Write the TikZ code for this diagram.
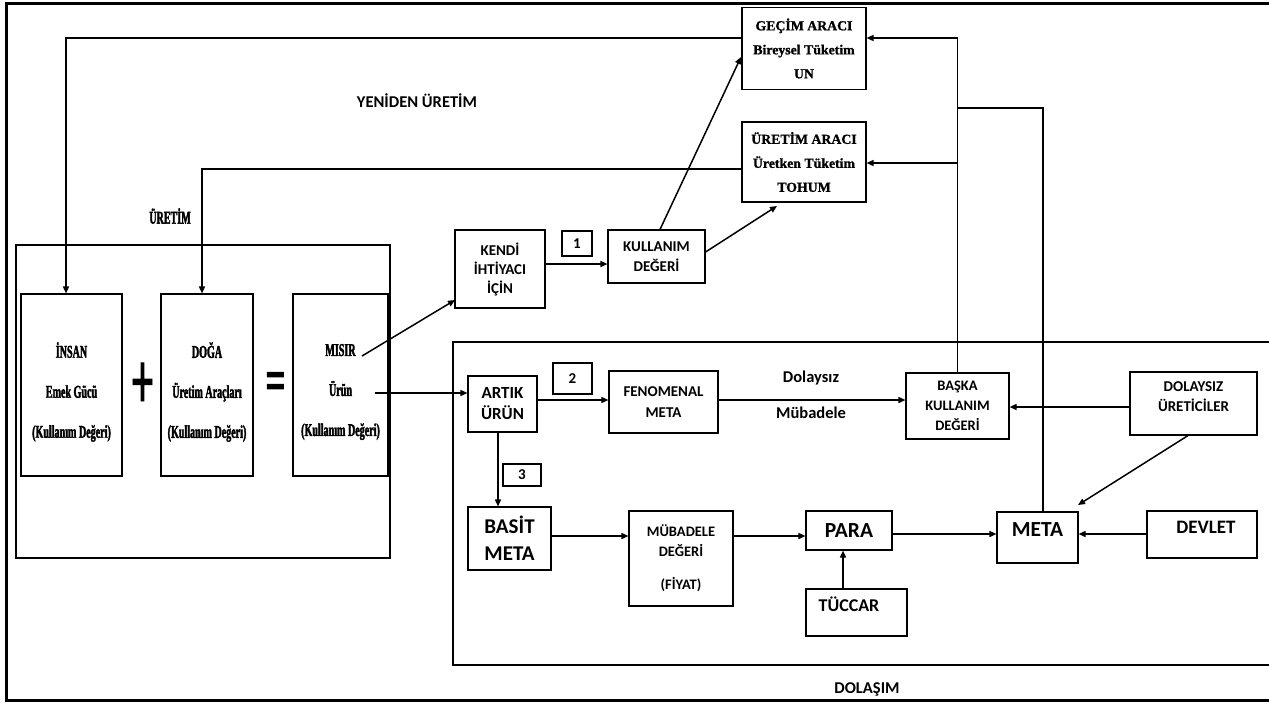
\documentclass[tikz,border=0pt]{standalone}
\usepackage{fontspec}
\usetikzlibrary{arrows.meta}
\newfontfamily\sanslab{Carlito}
\newfontfamily\serlab{Liberation Serif Bold}[FakeBold=1.2]
\newfontfamily\sercond{Liberation Serif Bold}[FakeStretch=0.56, FakeBold=2]
\newfontfamily\symcond{Liberation Serif Bold}[FakeStretch=0.5, FakeBold=1]
\tikzset{
  boxn/.style={draw, line width=1.1pt, inner sep=0pt, align=center},
  arr/.style={-{Triangle[length=7pt,width=6pt]}, line width=1.5pt},
  ln/.style={line width=1.5pt},
  sf/.style={font=\sanslab\bfseries\fontsize{#1}{20}\selectfont},
  tf/.style={font=\serlab\fontsize{13.8}{24}\selectfont},
  cf/.style={font=\sercond\fontsize{18}{40}\selectfont, align=center},
}
\begin{document}
\begin{tikzpicture}[x=1pt,y=-1pt]
\useasboundingbox (0,0) rectangle (1269,702);
% outer frame
\draw[line width=3pt] (1269,3) -- (6,3) -- (6,700) -- (1269,700);
% production box
\draw[line width=1.8pt] (16,245) rectangle (390,558);
% circulation box
\draw[line width=1.3pt] (1269,342) -- (453,342) -- (453,665) -- (1269,665);

% top boxes
\node[boxn, tf, minimum width=124, minimum height=82] (gecim) at (804,48.5) {GEÇİM ARACI\\Bireysel Tüketim\\UN};
\node[boxn, tf, minimum width=124, minimum height=80] (uretimarac) at (804,162) {ÜRETİM ARACI\\Üretken Tüketim\\TOHUM};

% production boxes
\node[boxn, minimum width=101, minimum height=182] (insan) at (71.5,385) {};
\node[cf] (insant) at (71.5,392) {İNSAN\\Emek Gücü\\(Kullanım Değeri)};
\node[boxn, minimum width=92, minimum height=182] (doga) at (207,385) {};
\node[cf] (dogat) at (207,392) {DOĞA\\Üretim Araçları\\(Kullanım Değeri)};
\node[boxn, minimum width=95, minimum height=182] (misir) at (340.5,385) {};
\node[cf] (misirt) at (340.5,392) {MISIR\\Ürün\\(Kullanım Değeri)};
\node[font=\symcond\fontsize{82}{82}\selectfont, inner sep=0pt] (plus) at (142.5,386) {+};
\node[font=\sercond\fontsize{60}{60}\selectfont, inner sep=0pt] (eq) at (275.5,386.5) {=};

% labels
\node[sf=16.5] (yeniden) at (417,101) {YENİDEN ÜRETİM};
\node[font=\sercond\fontsize{18}{20}\selectfont] (uretimlab) at (170,216) {ÜRETİM};
\node[sf=16.5] (dolasim) at (867,689) {DOLAŞIM};

% middle boxes
\node[boxn, font=\sanslab\bfseries\fontsize{15}{19}\selectfont, minimum width=90, minimum height=78] (kendi) at (500,269) {KENDİ\\İHTİYACI\\İÇİN};
\node[boxn, sf=15, minimum width=30, minimum height=25] (n1) at (577,243.5) {1};
\node[boxn, sf=15, minimum width=97, minimum height=53] (kullanim) at (656.5,256.5) {KULLANIM\\DEĞERİ};

% circulation boxes
\node[boxn, font=\sanslab\bfseries\fontsize{17}{21}\selectfont, minimum width=69, minimum height=56] (artik) at (502.5,404) {ARTIK\\ÜRÜN};
\node[boxn, sf=15, minimum width=39, minimum height=31] (n2) at (572.5,378.5) {2};
\node[boxn, sf=15, minimum width=38, minimum height=22] (n3) at (522,475) {3};
\node[boxn, font=\sanslab\bfseries\fontsize{15}{21}\selectfont, minimum width=109, minimum height=62] (fen) at (663.5,402) {FENOMENAL\\META};
\node[boxn, font=\sanslab\bfseries\fontsize{14.5}{20}\selectfont, minimum width=103, minimum height=66] (baska) at (957.5,406) {BAŞKA\\KULLANIM\\DEĞERİ};
\node[boxn, minimum width=127, minimum height=63] (dol) at (1193.5,403.5) {};
\node[sf=15, align=center] (dolt) at (1193.5,397) {DOLAYSIZ\\ÜRETİCİLER};
\node[boxn, minimum width=81, minimum height=51] (meta) at (1037.5,537.5) {};
\node[sf=21.5] (metat) at (1037.5,530) {META};
\node[boxn, minimum width=110, minimum height=47] (devlet) at (1202,534.5) {};
\node[sf=19] (devlett) at (1206,527) {DEVLET};
\node[boxn, font=\sanslab\bfseries\fontsize{21}{27}\selectfont, minimum width=83, minimum height=63] (basit) at (509.5,538.5) {BASİT\\META};
\node[boxn, font=\sanslab\bfseries\fontsize{14.5}{20}\selectfont, minimum width=104, minimum height=95] (mub) at (681,558.5) {MÜBADELE\\DEĞERİ\\[13pt](FİYAT)};
\node[boxn, sf=21.5, minimum width=86, minimum height=39] (para) at (849,530.5) {PARA};
\node[boxn, minimum width=101, minimum height=47] (tuccar) at (856.5,612.5) {};
\node[sf=18] (tuccart) at (849,604) {TÜCCAR};
\node[sf=16.5] (dolaysiz) at (811,378) {Dolaysız};
\node[sf=16.5] (mubadele) at (811,413) {Mübadele};

% helper coordinates
\coordinate (c1) at (66,38);
\coordinate (c2) at (202,169);
\coordinate (c4) at (958,163);
\coordinate (c5) at (1043,108);
\coordinate (m1) at (362,356);
\coordinate (k1) at (455,300);
\coordinate (u1) at (375,393);
\coordinate (y264) at (0,264);
\coordinate (a1) at (660,0);
\coordinate (a2) at (741,57);
\coordinate (b1) at (0,252);
\coordinate (b2) at (777,206);
\coordinate (y399) at (0,400);
\coordinate (y407) at (0,407);
\coordinate (y534) at (0,534);
\coordinate (y536) at (0,536);
\coordinate (d1) at (1188,0);
\coordinate (d2) at (1078,505);
\coordinate (x843) at (843,0);
\coordinate (x498) at (498,0);

% connectors
\draw[arr] (gecim.west |- c1) -- (c1) -- (c1 |- insan.north);
\draw[arr] (uretimarac.west |- c2) -- (c2) -- (c2 |- doga.north);
\draw[arr] (baska.north) -- (baska.north |- c1) -- (gecim.east |- c1);
\draw[arr] (baska.north |- c4) -- (uretimarac.east |- c4);
\draw[ln] (c5 |- meta.north) -- (c5) -- (baska.north |- c5);
\draw[arr] (m1) -- (k1);
\draw[arr] (u1) -- (artik.west |- u1);
\draw[arr] (kendi.east |- y264) -- (kullanim.west |- y264);
\draw[arr] (a1 |- kullanim.north) -- (a2);
\draw[arr] (kullanim.east |- b1) -- (b2);
\draw[arr] (artik.east |- y399) -- (fen.west |- y399);
\draw[arr] (fen.east |- y399) -- (baska.west |- y399);
\draw[arr] (dol.west |- y407) -- (baska.east |- y407);
\draw[arr] (d1 |- dol.south) -- (d2);
\draw[arr] (devlet.west |- y534) -- (meta.east |- y534);
\draw[arr] (para.east |- y534) -- (meta.west |- y534);
\draw[arr] (basit.east |- y536) -- (mub.west |- y536);
\draw[arr] (mub.east |- y536) -- (para.west |- y536);
\draw[arr] (x843 |- tuccar.north) -- (x843 |- para.south);
\draw[arr] (x498 |- artik.south) -- (x498 |- basit.north);
\end{tikzpicture}
\end{document}
